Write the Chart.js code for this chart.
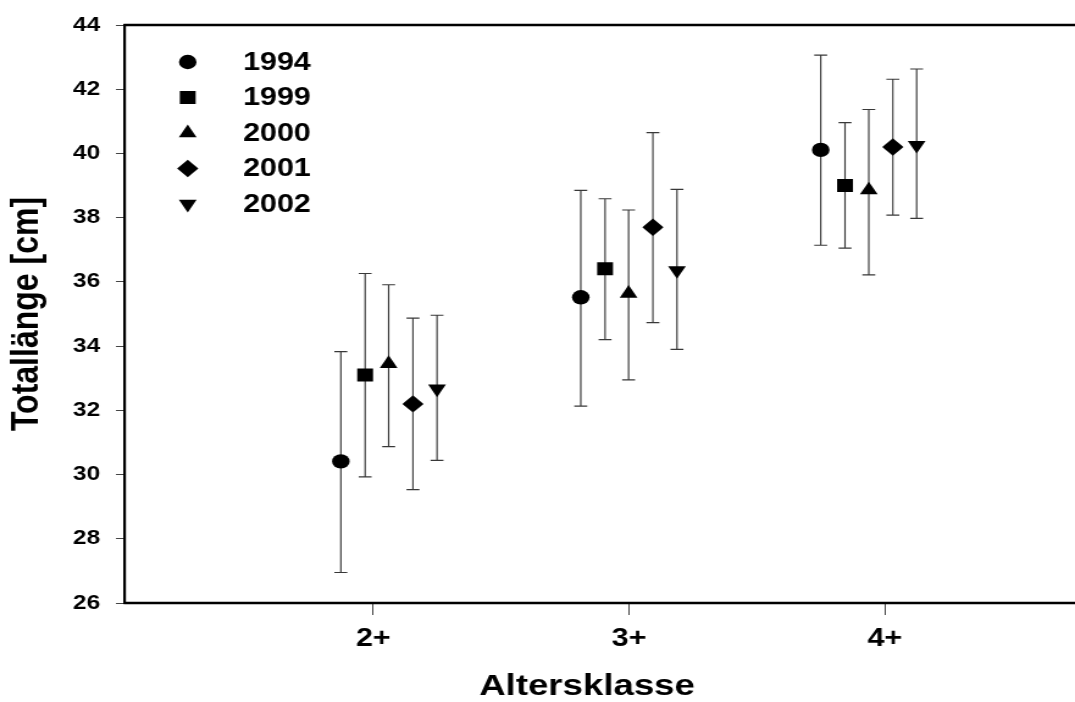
<!DOCTYPE html>
<html>
<head>
<meta charset="utf-8">
<script src="https://cdn.jsdelivr.net/npm/chart.js@4/dist/chart.umd.min.js"></script>
<style>
  html, body { margin: 0; padding: 0; background: #fff; }
  #c { display: block; width: 1075px; height: 702px; }
</style>
</head>
<body>
<canvas id="c" width="881" height="702" style="width:1075px;height:702px;"></canvas>
<script>
// ---- data ----
const categories = ['2+', '3+', '4+'];
const tickValues = [2, 3, 4];
const years = ['1994', '1999', '2000', '2001', '2002'];

const x1994 = [1.873, 2.811, 3.749];
const x1999 = [1.968, 2.906, 3.844];
const x2000 = [2.060, 2.998, 3.937];
const x2001 = [2.155, 3.093, 4.031];
const x2002 = [2.249, 3.187, 4.124];

const mean1994 = [30.41, 35.52, 40.11];
const low1994  = [26.95, 32.13, 37.14];
const high1994 = [33.83, 38.85, 43.06];

const mean1999 = [33.10, 36.41, 39.00];
const low1999  = [29.93, 34.20, 37.05];
const high1999 = [36.26, 38.59, 40.96];

const mean2000 = [33.45, 35.64, 38.86];
const low2000  = [30.87, 32.95, 36.22];
const high2000 = [35.91, 38.24, 41.37];

const mean2001 = [32.20, 37.70, 40.20];
const low2001  = [29.53, 34.73, 38.08];
const high2001 = [34.87, 40.65, 42.31];

const mean2002 = [32.67, 36.36, 40.26];
const low2002  = [30.44, 33.90, 37.98];
const high2002 = [34.96, 38.88, 42.63];

const yTitle = 'Totallänge [cm]';
const xTitle = 'Altersklasse';

// ---- build ----
const FONT = "'Liberation Sans', Arial, Helvetica, sans-serif";
const series = [
  { label: years[0], x: x1994, m: mean1994, lo: low1994, hi: high1994, style: 'circle',   r: 7.2, rot: 0 },
  { label: years[1], x: x1999, m: mean1999, lo: low1999, hi: high1999, style: 'rect',     r: 9.2, rot: 0 },
  { label: years[2], x: x2000, m: mean2000, lo: low2000, hi: high2000, style: 'triangle', r: 8.4, rot: 0 },
  { label: years[3], x: x2001, m: mean2001, lo: low2001, hi: high2001, style: 'rectRot',  r: 8.7, rot: 0 },
  { label: years[4], x: x2002, m: mean2002, lo: low2002, hi: high2002, style: 'triangle', r: 8.4, rot: 180 }
];

const datasets = series.map(s => ({
  label: s.label,
  data: s.x.map((xv, i) => ({ x: xv, y: s.m[i] })),
  pointStyle: s.style,
  pointRadius: s.r,
  pointRotation: s.rot,
  pointBackgroundColor: '#000',
  pointBorderColor: '#000',
  pointBorderWidth: 0,
  showLine: false
}));

const errorBars = {
  id: 'errorBars',
  beforeDatasetsDraw(chart) {
    const ctx = chart.ctx, xs = chart.scales.x, ys = chart.scales.y;
    ctx.save();
    ctx.strokeStyle = '#383838';
    ctx.lineWidth = 1.15;
    const cap = 5.3;
    series.forEach(s => {
      s.x.forEach((xv, i) => {
        const px = xs.getPixelForValue(xv);
        const pl = ys.getPixelForValue(s.lo[i]);
        const ph = ys.getPixelForValue(s.hi[i]);
        ctx.beginPath();
        ctx.moveTo(px, pl); ctx.lineTo(px, ph);
        ctx.moveTo(px - cap, pl); ctx.lineTo(px + cap, pl);
        ctx.moveTo(px - cap, ph); ctx.lineTo(px + cap, ph);
        ctx.stroke();
      });
    });
    ctx.restore();
  }
};

const frame = {
  id: 'frame',
  afterDraw(chart) {
    const ctx = chart.ctx, a = chart.chartArea;
    ctx.save();
    ctx.strokeStyle = '#000';
    ctx.lineWidth = 2.5;
    ctx.beginPath();
    ctx.moveTo(a.left - 1.1, a.top); ctx.lineTo(chart.width, a.top);
    ctx.moveTo(a.left - 1.1, a.bottom); ctx.lineTo(chart.width, a.bottom);
    ctx.stroke();
    ctx.restore();
  }
};

const insideLegend = {
  id: 'insideLegend',
  afterDraw(chart) {
    const ctx = chart.ctx, a = chart.chartArea;
    const symX = a.left + 51.4;
    const txtX = a.left + 96.7;
    const y0 = 62, dy = 35.5;
    ctx.save();
    ctx.fillStyle = '#000';
    ctx.strokeStyle = '#000';
    ctx.font = 'bold 25px ' + FONT;
    ctx.textBaseline = 'middle';
    ctx.textAlign = 'left';
    series.forEach((s, i) => {
      const y = y0 + i * dy;
      Chart.helpers.drawPoint(ctx, { pointStyle: s.style, radius: s.r, rotation: s.rot, borderWidth: 0 }, symX, y);
      ctx.fillText(s.label, txtX, y + 1);
    });
    ctx.restore();
  }
};

new Chart(document.getElementById('c'), {
  type: 'scatter',
  data: { datasets },
  options: {
    responsive: false,
    animation: false,
    devicePixelRatio: 1,
    layout: { padding: { top: 22.7, right: 21.3, bottom: 0, left: 0 } },
    plugins: { legend: { display: false }, tooltip: { enabled: false } },
    scales: {
      x: {
        type: 'linear',
        min: 1.0293,
        max: 4.6415,
        afterBuildTicks: s => { s.ticks = tickValues.map(v => ({ value: v })); },
        afterFit: s => { s.height = 99; },
        ticks: {
          autoSkip: false, maxRotation: 0,
          color: '#000',
          padding: 9,
          font: { family: FONT, size: 25, weight: 'bold' },
          callback: v => categories[tickValues.indexOf(v)]
        },
        grid: { drawOnChartArea: false, drawTicks: true, tickLength: 12, color: '#444', lineWidth: 1 },
        border: { display: false },
        title: { display: true, text: xTitle, color: '#000', font: { family: FONT, size: 30, weight: 'bold', lineHeight: 1 }, padding: { top: 0, bottom: 0 } }
      },
      y: {
        type: 'linear',
        min: 26,
        max: 44,
        afterFit: s => { s.width = 102.44; },
        ticks: {
          stepSize: 2,
          color: '#000',
          padding: 13,
          font: { family: FONT, size: 20, weight: 'bold' }
        },
        grid: { drawOnChartArea: false, drawTicks: true, tickLength: 7.4, color: '#444', lineWidth: 1 },
        border: { display: true, color: '#000', width: 2.2 },
        title: { display: true, text: yTitle, color: '#000', font: { family: FONT, size: 32, weight: 'bold', lineHeight: 1 }, padding: { top: 6.5, bottom: 0 } }
      }
    }
  },
  plugins: [errorBars, frame, insideLegend]
});
</script>
</body>
</html>
